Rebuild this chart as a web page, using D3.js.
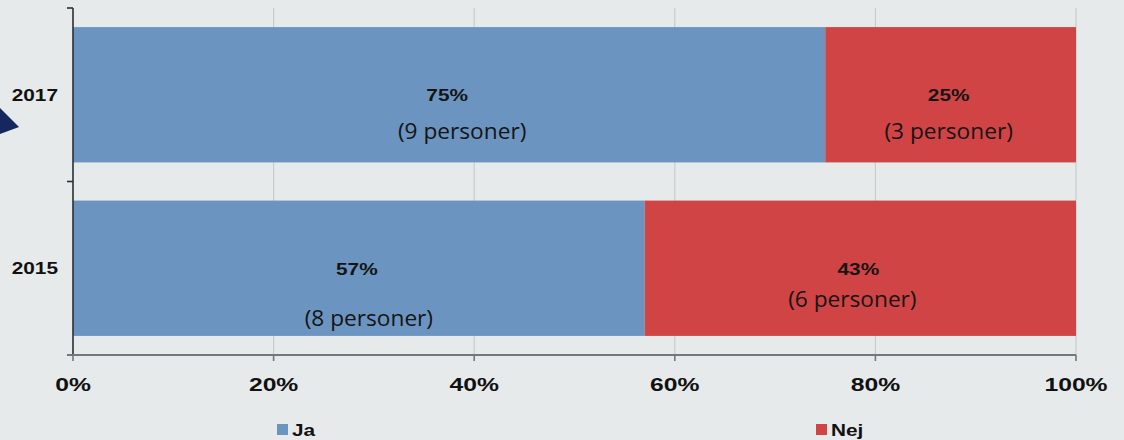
<!DOCTYPE html>
<html>
<head>
<meta charset="utf-8">
<script src="https://cdn.jsdelivr.net/npm/d3@7"></script>
<style>
  html, body { margin: 0; padding: 0; background: #e6eaeb; }
  svg { display: block; }
</style>
</head>
<body>
<svg id="chart" width="1124" height="440"></svg>
<script>
// Survey answers per year, stacked to 100%
const years = ["2017", "2015"];
const seriesNames = ["Ja", "Nej"];
const jaShare = [75, 57];
const nejShare = [25, 43];
const jaPersons = [9, 8];
const nejPersons = [3, 6];
const xTicks = [0, 20, 40, 60, 80, 100];
const tickLabels = ["0%", "20%", "40%", "60%", "80%", "100%"];

const colors = { Ja: "#6c94c0", Nej: "#d04445" };

// Vertical placement of the "(n personer)" notes inside each segment (px below bar top)
const noteOffsets = {
  "2017": { Ja: 112, Nej: 112 },
  "2015": { Ja: 125, Nej: 106 }
};
const noteShift = {
  "2017": { Ja: 13, Nej: -2 },
  "2015": { Ja: 10, Nej: -8 }
};

const svg = d3.select("#chart");
const margin = { left: 73, right: 48, top: 8, bottom: 85 };
const W = 1124, H = 440;
const x0 = margin.left, x1 = W - margin.right;   // 73 .. 1076
const y0 = margin.top, y1 = H - margin.bottom;   // 8 .. 355
const SX = 1.3; // horizontal stretch of all lettering

const x = d3.scaleLinear().domain([0, 100]).range([x0, x1]);
const y = d3.scaleBand().domain(years).range([y0, y1]).paddingInner(0.22).paddingOuter(0.11);

// Build stacked rows
const rows = years.map((yr, i) => ({ year: yr, Ja: jaShare[i], Nej: nejShare[i], pJa: jaPersons[i], pNej: nejPersons[i] }));
const stacked = d3.stack().keys(seriesNames)(rows);

function stretchedText(g, tx, ty) {
  return g.append("text").attr("transform", `translate(${tx},${ty}) scale(${SX},1)`);
}

// Gridlines
svg.append("g").selectAll("line").data(xTicks.filter(t => t > 0)).join("line")
  .attr("x1", d => x(d)).attr("x2", d => x(d))
  .attr("y1", y0).attr("y2", y1)
  .attr("stroke", "#c9cccd").attr("stroke-width", 1.2);

// Bars
const barG = svg.append("g");
stacked.forEach(layer => {
  barG.append("g").selectAll("rect").data(layer).join("rect")
    .attr("x", d => x(d[0]))
    .attr("width", d => x(d[1]) - x(d[0]))
    .attr("y", d => y(d.data.year))
    .attr("height", y.bandwidth())
    .attr("fill", colors[layer.key]);
});

// Segment labels
const labG = svg.append("g");
stacked.forEach(layer => {
  layer.forEach(d => {
    const cx = (x(d[0]) + x(d[1])) / 2;
    const top = y(d.data.year);
    const pct = d.data[layer.key];
    const persons = layer.key === "Ja" ? d.data.pJa : d.data.pNej;
    stretchedText(labG, cx - 2, top + 74)
      .attr("text-anchor", "middle")
      .attr("font-family", "'Liberation Sans', Arial, sans-serif")
      .attr("font-weight", "bold").attr("font-size", 16)
      .attr("fill", "#141414")
      .text(pct + "%");
    labG.append("text")
      .attr("transform", `translate(${cx + noteShift[d.data.year][layer.key]},${top + noteOffsets[d.data.year][layer.key]}) scale(1.08,1)`)
      .attr("text-anchor", "middle")
      .attr("font-family", "'Open Sans', sans-serif")
      .attr("font-size", 21)
      .attr("fill", "#141414")
      .text(`(${persons} personer)`);
  });
});

// Left axis: line with ticks on the band boundaries
const leftAx = svg.append("g");
leftAx.append("line").attr("x1", x0).attr("x2", x0).attr("y1", y0).attr("y2", y1)
  .attr("stroke", "#2a2f33").attr("stroke-width", 1.6);
const bounds = [y0].concat(years.map(yr => y(yr) + y.bandwidth() + y.step() * y.paddingInner() / 2));
leftAx.selectAll("line.tk").data(bounds.slice(0, 2)).join("line").attr("class", "tk")
  .attr("x1", x0 - 6).attr("x2", x0).attr("y1", d => d).attr("y2", d => d)
  .attr("stroke", "#2a2f33").attr("stroke-width", 1.6);
years.forEach(yr => {
  stretchedText(leftAx, 58, y(yr) + y.bandwidth() / 2 + 6)
    .attr("text-anchor", "end")
    .attr("font-family", "'Liberation Sans', Arial, sans-serif")
    .attr("font-weight", "bold").attr("font-size", 16)
    .attr("fill", "#111")
    .text(yr);
});

// Bottom axis
const bottomAx = svg.append("g");
bottomAx.append("line").attr("x1", x0 - 6).attr("x2", x1).attr("y1", y1).attr("y2", y1)
  .attr("stroke", "#747779").attr("stroke-width", 2);
bottomAx.selectAll("line.tk").data(xTicks).join("line").attr("class", "tk")
  .attr("x1", d => x(d)).attr("x2", d => x(d)).attr("y1", y1).attr("y2", y1 + 6)
  .attr("stroke", "#747779").attr("stroke-width", 1.6);
xTicks.forEach((t, i) => {
  stretchedText(bottomAx, x(t), y1 + 36)
    .attr("text-anchor", "middle")
    .attr("font-family", "'Liberation Sans', Arial, sans-serif")
    .attr("font-weight", "bold").attr("font-size", 19)
    .attr("fill", "#111")
    .text(tickLabels[i]);
});

// Legend
const legendX = { Ja: 277, Nej: 816 };
const legG = svg.append("g");
seriesNames.forEach(name => {
  legG.append("rect").attr("x", legendX[name]).attr("y", 424).attr("width", 11).attr("height", 11)
    .attr("fill", colors[name]);
  stretchedText(legG, legendX[name] + 15, 435.5)
    .attr("font-family", "'Liberation Sans', Arial, sans-serif")
    .attr("font-weight", "bold").attr("font-size", 16)
    .attr("fill", "#111")
    .text(name);
});

// Decorative arrowhead at the left edge
svg.append("path")
  .attr("d", "M0,108 L19,127 L0,134 Z")
  .attr("fill", "#14275e");
</script>
</body>
</html>
